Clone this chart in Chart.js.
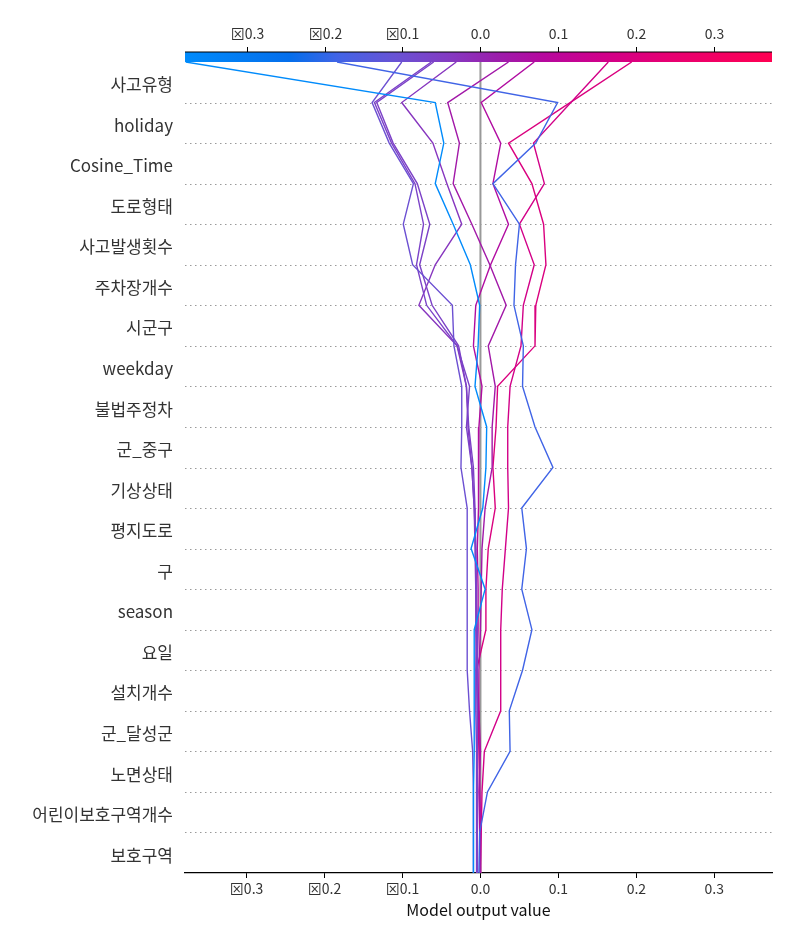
<!DOCTYPE html>
<html>
<head>
<meta charset="utf-8">
<script src="https://cdn.jsdelivr.net/npm/chart.js@4.4.1/dist/chart.umd.min.js"></script>
<style>
html,body{margin:0;padding:0;background:#fff;}
#wrap{width:800px;height:950px;position:relative;}
</style>
</head>
<body>
<div id="wrap"><canvas id="c" width="800" height="950"></canvas></div>
<script>
// Features, top (most important) to bottom
const features = ['사고유형','holiday','Cosine_Time','도로형태','사고발생횟수','주차장개수','시군구','weekday','불법주정차','군_중구','기상상태','평지도로','구','season','요일','설치개수','군_달성군','노면상태','어린이보호구역개수','보호구역'];

// Cumulative model output at each level, from the top (final output) down to the bottom
const line1  = [-0.378,-0.058,-0.047,-0.058,-0.035,-0.013,-0.001,-0.003,-0.007,0.008,0.007,0.003,-0.012,0.006,-0.008,-0.008,-0.008,-0.008,-0.009,-0.009,-0.009];
const line2  = [-0.184,0.099,0.071,0.016,0.050,0.045,0.043,0.055,0.054,0.070,0.093,0.053,0.059,0.053,0.066,0.054,0.037,0.038,0.009,-0.001,-0.002];
const line3  = [-0.101,-0.139,-0.117,-0.086,-0.099,-0.087,-0.036,-0.034,-0.024,-0.024,-0.025,-0.017,-0.017,-0.017,-0.017,-0.017,-0.014,-0.010,-0.009,-0.009,-0.009];
const line4  = [-0.063,-0.136,-0.114,-0.084,-0.073,-0.082,-0.069,-0.030,-0.014,-0.018,-0.011,-0.008,-0.006,-0.006,-0.004,-0.004,-0.004,-0.004,-0.004,-0.004,-0.004];
const line5  = [-0.060,-0.133,-0.112,-0.081,-0.065,-0.078,-0.062,-0.028,-0.018,-0.015,-0.009,-0.007,-0.006,-0.005,-0.005,-0.006,-0.006,-0.005,-0.005,-0.005,-0.005];
const line6  = [-0.031,-0.101,-0.061,-0.043,-0.024,-0.058,-0.079,-0.030,-0.018,-0.016,-0.011,-0.008,-0.007,-0.006,-0.006,-0.005,-0.004,-0.004,-0.004,-0.004,-0.004];
const line7  = [0.036,-0.042,-0.027,-0.035,-0.011,0.012,0.033,0.010,0.019,0.015,0.015,0.006,0.002,0.001,0.000,-0.002,-0.002,-0.001,-0.001,0.000,0.000];
const line8  = [0.069,0.001,0.026,0.016,0.036,0.013,-0.006,-0.009,0.002,-0.002,-0.002,-0.003,-0.004,-0.003,-0.003,-0.004,-0.002,0.000,-0.002,-0.001,0.000];
const line9  = [0.164,0.116,0.068,0.082,0.050,0.069,0.055,0.052,0.038,0.035,0.035,0.036,0.032,0.028,0.026,0.026,0.026,0.005,0.002,0.001,0.000];
const line10 = [0.194,0.115,0.036,0.066,0.081,0.084,0.071,0.070,0.022,0.020,0.016,0.019,0.010,0.007,0.007,-0.005,-0.003,-0.002,-0.001,0.000,0.000];
const allLines = [line1,line2,line3,line4,line5,line6,line7,line8,line9,line10];

const tickValues = [-0.3,-0.2,-0.1,0.0,0.1,0.2,0.3];
const xMin = -0.379, xMax = 0.374;
const baseValue = 0.0;

// red-blue colormap stops
const cmapStops = [
  [0.00,[0,139,251]],
  [0.18,[5,110,235]],
  [0.26,[65,100,230]],
  [0.36,[105,82,212]],
  [0.45,[132,58,194]],
  [0.53,[155,30,172]],
  [0.61,[182,8,158]],
  [0.71,[208,0,138]],
  [0.82,[230,0,115]],
  [1.00,[255,0,82]]
];
function cmap(t){
  t=Math.max(0,Math.min(1,t));
  for(let i=1;i<cmapStops.length;i++){
    const [t1,c1]=cmapStops[i-1],[t2,c2]=cmapStops[i];
    if(t<=t2){const f=(t-t1)/(t2-t1);
      return 'rgb('+c1.map((v,k)=>Math.round(v+(c2[k]-v)*f)).join(',')+')';}
  }
  return 'rgb(255,0,82)';
}
function fmtTick(v){
  const r=Math.round(v*10)/10;
  return (r<0?'\u22A0':'')+Math.abs(r).toFixed(1);
}

const datasets = allLines.map(arr=>{
  const col = cmap((arr[0]-xMin)/(xMax-xMin));
  return {
    data: arr.map((v,i)=>({x:v,y:i})),
    borderColor: col, backgroundColor: col,
    borderWidth: 1.4, pointRadius: 0, showLine: true, tension: 0, fill:false
  };
});

const FONT = "'Noto Sans CJK KR','Noto Sans',sans-serif";

const decor = {
  id:'decor',
  beforeDatasetsDraw(chart){
    const {ctx, chartArea:a, scales:{x,y}} = chart;
    ctx.save();
    ctx.strokeStyle='#9a9a9a'; ctx.lineWidth=1; ctx.setLineDash([1.5,3.5]);
    for(let i=1;i<features.length;i++){
      const py=Math.round(y.getPixelForValue(i))+0.5;
      ctx.beginPath(); ctx.moveTo(a.left,py); ctx.lineTo(a.right,py); ctx.stroke();
    }
    ctx.setLineDash([]);
    ctx.strokeStyle='#999999'; ctx.lineWidth=2;
    const px=x.getPixelForValue(baseValue);
    ctx.beginPath(); ctx.moveTo(px,a.top); ctx.lineTo(px,a.bottom); ctx.stroke();
    ctx.restore();
  },
  afterDraw(chart){
    const {ctx, chartArea:a, scales:{x}} = chart;
    ctx.save();
    const top=a.top-10, h=10;
    const g=ctx.createLinearGradient(a.left,0,a.right,0);
    cmapStops.forEach(s=>g.addColorStop(s[0],'rgb('+s[1].join(',')+')'));
    ctx.fillStyle=g; ctx.fillRect(a.left,top,a.right-a.left,h);
    ctx.strokeStyle='#000'; ctx.lineWidth=1.2;
    ctx.beginPath(); ctx.moveTo(a.left,top); ctx.lineTo(a.right,top); ctx.stroke();
    ctx.lineWidth=1;
    ctx.fillStyle='#333'; ctx.font='14px '+FONT; ctx.textAlign='center'; ctx.textBaseline='middle';
    tickValues.forEach(v=>{
      const px=Math.round(x.getPixelForValue(v))+0.5;
      ctx.beginPath(); ctx.moveTo(px,top); ctx.lineTo(px,top-5); ctx.stroke();
      ctx.fillText(fmtTick(v),px,top-18);
    });
    ctx.restore();
  }
};

new Chart(document.getElementById('c'),{
  type:'scatter',
  data:{datasets},
  options:{
    responsive:false, animation:false,
    layout:{padding:{top:62,right:28,left:0,bottom:26}},
    plugins:{legend:{display:false},tooltip:{enabled:false}},
    scales:{
      x:{
        type:'linear', min:xMin, max:xMax,
        afterBuildTicks:(ax)=>{ax.ticks=tickValues.map(v=>({value:v}));},
        afterFit:(ax)=>{ax.height=51;},
        grid:{display:true, drawOnChartArea:false, drawTicks:true, tickLength:5, color:'#000'},
        border:{display:true,color:'#000',width:1.2},
        ticks:{color:'#333', font:{size:14,family:FONT}, padding:2, callback:(v)=>fmtTick(v), maxRotation:0},
        title:{display:true,text:'Model output value',color:'#111',font:{size:16,family:FONT},padding:{top:0,bottom:4}}
      },
      y:{
        type:'linear', min:0, max:features.length, reverse:true,
        afterBuildTicks:(ax)=>{ax.ticks=features.map((f,i)=>({value:i+0.56}));},
        afterFit:(ax)=>{ax.width=185;},
        grid:{display:false, drawTicks:false},
        border:{display:false},
        ticks:{color:'#333', font:{size:17,family:FONT}, padding:12, autoSkip:false,
          callback:(v)=>features[Math.floor(v)]}
      }
    }
  },
  plugins:[decor]
});
</script>
</body>
</html>
